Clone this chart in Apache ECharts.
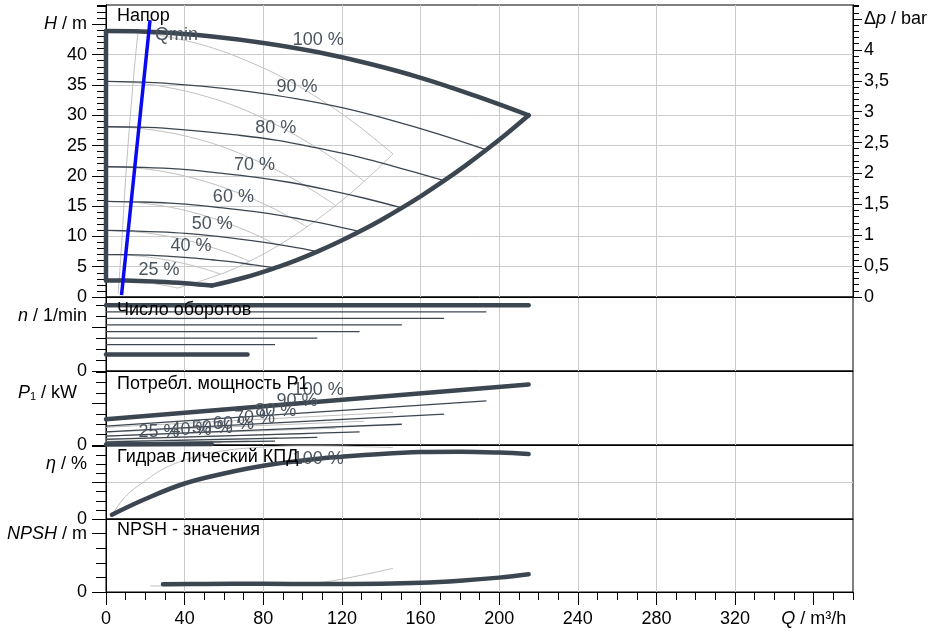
<!DOCTYPE html>
<html><head><meta charset="utf-8">
<script src="https://cdn.jsdelivr.net/npm/echarts@6/dist/echarts.min.js"></script>
<style>html,body{margin:0;padding:0;background:#fff}#c{width:937px;height:634px}</style>
</head><body><div id="c"></div>
<script>
// ---------- DATA ----------
// Head curves (Q m3/h, H m), dark = main pump, speeds 100..25 %
const head100 = [[0,43.9],[27,43.7],[54,43.0],[81,41.9],[108,40.4],[134,38.5],[161,36.1],[188,33.2],[215,30.0]];
const head90  = [[0,35.6],[24.3,35.4],[48.6,34.8],[72.9,33.9],[97.2,32.7],[120.6,31.2],[144.9,29.2],[169.2,26.9],[193.5,24.3]];
const head80  = [[0,28.1],[21.6,28.0],[43.2,27.5],[64.8,26.8],[86.4,25.9],[107.2,24.6],[128.8,23.1],[150.4,21.2],[172,19.2]];
const head70  = [[0,21.5],[18.9,21.4],[37.8,21.1],[56.7,20.5],[75.6,19.8],[93.8,18.9],[112.7,17.7],[131.6,16.3],[150.5,14.7]];
const head60  = [[0,15.8],[16.2,15.7],[32.4,15.5],[48.6,15.1],[64.8,14.5],[80.4,13.9],[96.6,13.0],[112.8,12.0],[129,10.8]];
const head50  = [[0,11.0],[13.5,10.9],[27,10.75],[40.5,10.5],[54,10.1],[67,9.6],[80.5,9.0],[94,8.3],[107.5,7.5]];
const head40  = [[0,7.0],[10.8,7.0],[21.6,6.9],[32.4,6.7],[43.2,6.45],[53.6,6.15],[64.4,5.8],[75.2,5.3],[86,4.8]];
const head25  = [[0,2.74],[6.75,2.73],[13.5,2.69],[20.25,2.62],[27,2.53],[33.5,2.41],[40.25,2.26],[47,2.08],[53.75,1.88]];
const headLimit = [[53.75,1.88],[70,3.18],[86,4.8],[97,6.1],[107.5,7.5],[118,9.04],[129,10.8],[140,12.72],[150.5,14.7],[161,16.83],[172,19.2],[183,21.73],[193.5,24.3],[204,27.0],[215,30.0]];
const headZeroFlow = [[0,2.74],[0,43.9]];
// grey head curves
const greyHead100 = [[0,43.9],[18.25,43.6],[36.5,42.6],[54.75,41.05],[73,38.8],[91.25,36.0],[109.5,32.5],[127.75,28.4],[146,23.6]];
const greyHead90  = [[0,35.6],[16.4,35.3],[32.9,34.5],[49.3,33.25],[65.7,31.5],[82.1,29.15],[98.6,26.3],[115,23.0],[131.4,19.1]];
const greyHead80  = [[0,28.1],[14.6,27.9],[29.2,27.3],[43.8,26.3],[58.4,24.9],[73,23.0],[87.6,20.8],[102.2,18.2],[116.8,15.1]];
const greyHead70  = [[0,21.5],[12.8,21.35],[25.6,20.9],[38.3,20.1],[51.1,19.0],[63.9,17.6],[76.7,15.9],[89.4,13.9],[102.2,11.6]];
const greyHead60  = [[0,15.8],[11,15.7],[21.9,15.35],[32.9,14.8],[43.8,14.0],[54.8,12.95],[65.7,11.7],[76.7,10.2],[87.6,8.5]];
const greyHead50  = [[0,11.0],[9.1,10.9],[18.3,10.65],[27.4,10.25],[36.5,9.7],[45.6,9.0],[54.8,8.1],[63.9,7.1],[73,5.9]];
const greyHead40  = [[0,7.0],[7.3,6.97],[14.6,6.82],[21.9,6.57],[29.2,6.21],[36.5,5.76],[43.8,5.2],[51.1,4.54],[58.4,3.78]];
const greyHead25  = [[0,2.74],[4.6,2.72],[9.1,2.66],[13.7,2.57],[18.3,2.43],[22.8,2.25],[27.4,2.03],[31.9,1.78],[36.5,1.48]];
const greyHeadLimit = [[36.5,1.48],[58.4,3.78],[73,5.9],[87.6,8.5],[102.2,11.57],[116.8,15.11],[131.4,19.12],[146,23.6]];
const greyQmin = [[6.2,0.6],[8,9],[9.7,18.2],[12.2,29.2],[14.5,38],[16.4,44.1]];
const qminLine = [[7.9,0.3],[22.4,45.7]];
const speedLabels = ['100 %','90 %','80 %','70 %','60 %','50 %','40 %','25 %'];
// speed n (1/min)
const speed100 = [[0,2990],[215,2990]];
const speed90  = [[0,2691],[193.5,2691]];
const speed80  = [[0,2392],[172,2392]];
const speed70  = [[0,2093],[150.5,2093]];
const speed60  = [[0,1794],[129,1794]];
const speed50  = [[0,1495],[107.5,1495]];
const speed40  = [[0,1196],[86,1196]];
const speed25  = [[0,748],[72,748]];
// power P1 (kW)
const power100 = [[0,12.4],[108,20.8],[215,29.1]];
const power90  = [[0,9.04],[97.2,15.2],[193.5,21.2]];
const power80  = [[0,6.35],[86.4,10.65],[172,14.9]];
const power70  = [[0,4.25],[75.6,7.13],[150.5,9.98]];
const power60  = [[0,2.68],[64.8,4.49],[129,6.29]];
const power50  = [[0,1.55],[54,2.6],[107.5,3.64]];
const power40  = [[0,0.79],[43.2,1.33],[86,1.86]];
const power25  = [[0,0.19],[27,0.33],[53.75,0.45]];
const greyPower100 = [[0,8.5],[146,15.7]];
const greyPower90  = [[0,6.2],[131.4,11.45]];
const greyPower80  = [[0,4.35],[116.8,8.04]];
const greyPower70  = [[0,2.92],[102.2,5.39]];
const greyPower60  = [[0,1.84],[87.6,3.39]];
const greyPower50  = [[0,1.06],[73,1.96]];
const greyPower40  = [[0,0.54],[58.4,1.0]];
const greyPower25  = [[0,0.13],[36.5,0.25]];
// efficiency (%)
const eta100 = [[3,4.7],[20,22],[40,39],[60,50],[80,58.5],[108,66.2],[120,68.5],[140,71.5],[160,73.5],[180,74],[200,73],[215,71.3]];
const greyEta = [[3,4],[10,25],[20,42],[30,56],[45,68],[60,75],[80,79],[100,80.3],[120,80],[146,78.5]];
// NPSH (m)
const npsh100 = [[29,1.05],[50,1.1],[80,1.12],[110,1.08],[140,1.13],[160,1.26],[180,1.55],[200,1.97],[215,2.42]];
const greyNpsh = [[22.6,0.82],[50,0.92],[80,1.03],[95,1.12],[110,1.35],[128,2.2],[146,3.24]];
// axis ranges & tick labels
const qMax = 380, hMax = 48.2, mPerBar = 10.197, nMax = 3364, pMax = 35.6, etaMax = 81.3, npshMax = 10;
const qTickValues = [0,40,80,120,160,200,240,280,320,360];
const qTickLabels = ['0','40','80','120','160','200','240','280','320','{i|Q} / m³/h'];
const hTickValues = [0,5,10,15,20,25,30,35,40,45];
const hTickLabels = ['0','5','10','15','20','25','30','35','40','{i|H} / m'];
const dpTickValues = [0,0.5,1,1.5,2,2.5,3,3.5,4,4.5];
const dpTickLabels = ['0','0,5','1','1,5','2','2,5','3','3,5','4','Δ{i|p} / bar'];
const nTickValues = [0,2500], nTickLabels = ['0','{i|n} / 1/min'];
const pTickValues = [0,25], pTickLabels = ['0','{i|P}{s|1} / kW  '];
const etaTickValues = [0,60], etaTickLabels = ['0','{i|η} / %'];
const npshTickValues = [0,8], npshTickLabels = ['0','{i|NPSH} / m'];
const panelTitles = ['Напор','Число оборотов','Потребл. мощность P1','Гидрав лический КПД','NPSH - значения'];

// ---------- CHART ----------
const FONT = '"Liberation Sans", Arial, "DejaVu Sans", sans-serif';
const FS = 18;
const DARK = '#3c4650', GREY = '#c0c0c0', LBL = '#4a545e';
const rich = {
  i:{fontStyle:'italic', fontSize:FS, fontFamily:FONT, color:'#000'},
  s:{fontSize:11, fontFamily:FONT, color:'#000', verticalAlign:'bottom'}
};
function fmt(values, texts){ return v => { for (let k=0;k<values.length;k++){ if (Math.abs(v-values[k])<1e-6) return texts[k]; } return ''; }; }

const grids = [[5,292],[297,74],[371,74],[445,74],[519,73]].map(g=>({left:106,right:84,top:g[0],height:g[1],show:true,borderColor:'#000',borderWidth:1,backgroundColor:'transparent'}));

const blackLine = {show:true, onZero:false, lineStyle:{color:'#000', width:1}};
const xAxes = [0,1,2,3,4].map(gi=>({
  gridIndex:gi, type:'value', min:0, max:qMax, interval:40, position:'bottom',
  axisLine:blackLine,
  axisTick:{show:gi===4, length:13, lineStyle:{color:'#000'}, customValues:qTickValues},
  axisLabel:{show:gi===4, margin:18, fontSize:FS, fontFamily:FONT, color:'#000', formatter:fmt(qTickValues,qTickLabels), rich, customValues:qTickValues},
  splitLine:{show:true, showMinLine:false, showMaxLine:false, lineStyle:{color:'#cccccc', width:1}}
}));
xAxes.push({gridIndex:4, type:'value', min:0, max:qMax, interval:10, position:'bottom', axisLine:blackLine,
  axisTick:{show:true, length:8, lineStyle:{color:'#000'}}, axisLabel:{show:false}, splitLine:{show:false}});

function yPair(gi, max, majorInt, majorVals, minorInt, labVals, labTexts, majLen, minLen){
  return [
    {gridIndex:gi, type:'value', min:0, max, interval:majorInt, position:'left', offset:0, axisLine:blackLine,
     axisTick:{show:true, length:majLen, lineStyle:{color:'#000'}, customValues:majorVals},
     axisLabel:{show:false},
     splitLine:{show:true, showMinLine:false, showMaxLine:false, lineStyle:{color:'#cccccc', width:1}}},
    {gridIndex:gi, type:'value', min:0, max, interval:minorInt, position:'left', offset:0, axisLine:blackLine,
     axisTick:{show:true, length:minLen, lineStyle:{color:'#000'}},
     axisLabel:{show:true, margin:19, fontSize:FS, fontFamily:FONT, color:'#000', formatter:fmt(labVals,labTexts), rich},
     splitLine:{show:false}}
  ];
}
const yAxes = [
  {gridIndex:0, type:'value', min:0, max:hMax, interval:5, position:'left', offset:0, axisLine:blackLine,
   axisTick:{show:true, length:14, lineStyle:{color:'#000'}, customValues:hTickValues},
   axisLabel:{show:true, margin:19, fontSize:FS, fontFamily:FONT, color:'#000', formatter:fmt(hTickValues,hTickLabels), rich, customValues:hTickValues},
   splitLine:{show:true, showMinLine:false, showMaxLine:false, lineStyle:{color:'#cccccc', width:1}}},
  {gridIndex:0, type:'value', min:0, max:hMax, interval:1, position:'left', offset:0, axisLine:blackLine,
   axisTick:{show:true, length:9, lineStyle:{color:'#000'}}, axisLabel:{show:false}, splitLine:{show:false}},
  {gridIndex:0, type:'value', min:0, max:hMax/mPerBar, interval:0.5, position:'right', offset:0, axisLine:blackLine,
   axisTick:{show:true, length:9, lineStyle:{color:'#000'}, customValues:dpTickValues},
   axisLabel:{show:true, margin:11, fontSize:FS, fontFamily:FONT, color:'#000', formatter:fmt(dpTickValues,dpTickLabels), rich, customValues:dpTickValues},
   splitLine:{show:false}},
  {gridIndex:0, type:'value', min:0, max:hMax/mPerBar, interval:0.1, position:'right', offset:0, axisLine:blackLine,
   axisTick:{show:true, length:6, lineStyle:{color:'#000'}}, axisLabel:{show:false}, splitLine:{show:false}},
  ...yPair(1, nMax, 2000, [0,2000], 500, nTickValues, nTickLabels, 14, 10),
  ...yPair(2, pMax, 20, [0,20], 5, pTickValues, pTickLabels, 14, 10),
  ...yPair(3, etaMax, 40, [0,40,80], 10, etaTickValues, etaTickLabels, 14, 10),
  ...yPair(4, npshMax, 8, [0,8], 2, npshTickValues, npshTickLabels, 14, 10)
];

const thick = {color:DARK, width:4.5, cap:'round', join:'round'};
const thin = {color:DARK, width:1.3};
const grey = {color:GREY, width:1};
const labStyle = {color:LBL, fontSize:FS, fontFamily:FONT};

function S(data, xi, yi, ls, opts){
  const o = Object.assign({type:'line', xAxisIndex:xi, yAxisIndex:yi, showSymbol:false, silent:true,
    animation:false, smooth:0.4, lineStyle:ls, emphasis:{disabled:true}}, opts||{});
  o.data = data;
  return o;
}
function labelled(data, idx, text, pos, dist){
  return data.map((p,k)=> k===idx ? {value:p, label:{show:true, formatter:text, position:pos, distance:dist, ...labStyle}} : p);
}
const series = [];
[greyHead100,greyHead90,greyHead80,greyHead70,greyHead60,greyHead50,greyHead40,greyHead25,greyHeadLimit,greyQmin].forEach(d=>series.push(S(d,0,0,grey)));
[greyPower100,greyPower90,greyPower80,greyPower70,greyPower60,greyPower50,greyPower40,greyPower25].forEach(d=>series.push(S(d,2,6,grey,{smooth:false})));
series.push(S(greyEta,3,8,grey));
series.push(S(greyNpsh,4,10,grey));
const heads = [head100,head90,head80,head70,head60,head50,head40,head25];
heads.forEach((d,k)=>series.push(S(labelled(d,4,speedLabels[k],'top',3),0,0,(k===0||k===7)?thick:thin,{showSymbol:true,symbol:'circle',symbolSize:0})));
series.push(S(headLimit,0,0,thick));
series.push(S(headZeroFlow,0,0,thick,{smooth:false}));
[speed100,speed90,speed80,speed70,speed60,speed50,speed40,speed25].forEach((d,k)=>series.push(S(d,1,4,(k===0||k===7)?thick:thin,{smooth:false})));
[power100,power90,power80,power70,power60,power50,power40,power25].forEach((d,k)=>series.push(S(labelled(d,1,speedLabels[k],'top',3),2,6,(k===0||k===7)?thick:thin,{smooth:false,showSymbol:true,symbol:'circle',symbolSize:0})));
series.push(S(labelled(eta100,5,speedLabels[0],'inside',0),3,8,thick,{showSymbol:true,symbol:'circle',symbolSize:0}));
series.push(S(npsh100,4,10,thick));
series.push(S(qminLine.map((p,k)=>k===1?{value:p,label:{show:true,formatter:'Qmin',position:'right',distance:5,offset:[0,15],...labStyle}}:p),0,0,{color:'#0a0af0',width:3.5},{smooth:false,showSymbol:true,symbol:'circle',symbolSize:0}));

const titleTops = [7,301,375,448,521];
const graphic = panelTitles.map((t,k)=>({type:'text', left:117, top:titleTops[k], z:100, silent:true,
  style:{text:t, font:FS+'px '+FONT, fill:'#000'}}));

const chart = echarts.init(document.getElementById('c'), null, {renderer:'canvas'});
chart.setOption({animation:false, backgroundColor:'#fff', grid:grids, xAxis:xAxes, yAxis:yAxes, series, graphic});
</script></body></html>
